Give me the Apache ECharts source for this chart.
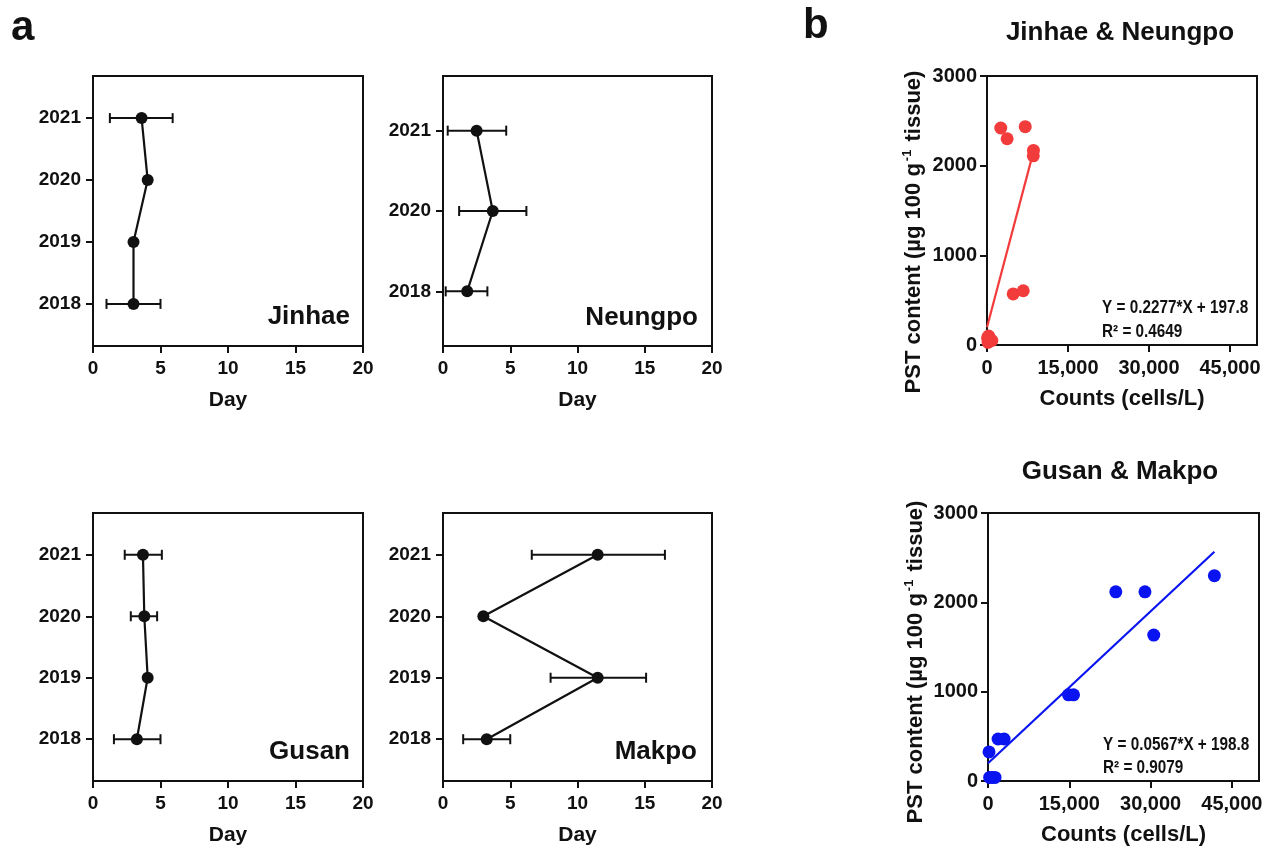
<!DOCTYPE html>
<html>
<head>
<meta charset="utf-8">
<script src="https://cdn.jsdelivr.net/npm/echarts@6/dist/echarts.min.js"></script>
<style>
html,body{margin:0;padding:0;background:#fff}
#main{width:1270px;height:848px}
</style>
</head>
<body>
<div id="main"></div>
<script>
var FONT = '"Liberation Sans", Arial, Helvetica, sans-serif';
var INK = '#111';

// ---- panel a : bloom day per year (mean, min, max) ----
var jinhaeYears = ['2018', '2019', '2020', '2021'];
var jinhaeDay   = [3.0, 3.0, 4.05, 3.6];
var jinhaeLow   = [1.0, null, null, 1.25];
var jinhaeHigh  = [5.0, null, null, 5.9];

var neungpoYears = ['2018', '2020', '2021'];
var neungpoDay   = [1.8, 3.7, 2.5];
var neungpoLow   = [0.2, 1.2, 0.35];
var neungpoHigh  = [3.3, 6.2, 4.7];

var gusanYears = ['2018', '2019', '2020', '2021'];
var gusanDay   = [3.25, 4.05, 3.8, 3.7];
var gusanLow   = [1.55, null, 2.8, 2.35];
var gusanHigh  = [5.0, null, 4.75, 5.1];

var makpoYears = ['2018', '2019', '2020', '2021'];
var makpoDay   = [3.25, 11.5, 3.0, 11.5];
var makpoLow   = [1.5, 8.0, null, 6.6];
var makpoHigh  = [5.0, 15.1, null, 16.5];

var dayTicks = [0, 5, 10, 15, 20];

// ---- panel b : PST content vs cell counts ----
var jnCounts = [2550, 3730, 7080, 8570, 8600, 4850, 6710, 100, 300, 600, 900, 200];
var jnPST    = [2420, 2300, 2435, 2110, 2170, 570, 605, 80, 100, 60, 50, 30];
var jnFitX   = [0, 8700];
var jnFitY   = [198, 2179];

var gmCounts = [190, 300, 800, 1300, 1860, 2970, 14850, 15780, 23580, 28960, 30580, 41770];
var gmPST    = [325, 40, 40, 40, 470, 470, 965, 965, 2118, 2118, 1634, 2298];
var gmFitX   = [0, 41770];
var gmFitY   = [198, 2567];

var countTicks = [0, 15000, 30000, 45000];

var grids = [
    {left: 93,  top: 76,  width: 270, height: 270},
    {left: 443, top: 76,  width: 269, height: 270},
    {left: 93,  top: 513, width: 270, height: 268},
    {left: 443, top: 513, width: 269, height: 268},
    {left: 987, top: 76,  width: 270, height: 269},
    {left: 988, top: 513, width: 271, height: 268}
];

var xAxes = [], yAxes = [], series = [];

function axisBase(size){
    return {
        axisLine: {show: true, onZero: false, lineStyle: {color: INK, width: 2}},
        axisTick: {show: true, length: 7, lineStyle: {color: INK, width: 2}},
        splitLine: {show: false},
        axisLabel: {color: INK, fontSize: size, fontWeight: 'bold', fontFamily: FONT, margin: 13}
    };
}

function renderErr(params, api){
    var a = api.coord([api.value(0), api.value(2)]);
    var b = api.coord([api.value(1), api.value(2)]);
    var h = 5;
    var st = {stroke: INK, lineWidth: 2};
    return {type: 'group', children: [
        {type: 'line', shape: {x1: a[0], y1: a[1], x2: b[0], y2: b[1]}, style: st},
        {type: 'line', shape: {x1: a[0], y1: a[1] - h, x2: a[0], y2: a[1] + h}, style: st},
        {type: 'line', shape: {x1: b[0], y1: b[1] - h, x2: b[0], y2: b[1] + h}, style: st}
    ]};
}

function panelA(gi, years, day, low, high){
    var n = years.length;
    var idx = years.map(function(y, i){ return i; });
    var x = axisBase(19);
    x.gridIndex = gi; x.type = 'value'; x.min = 0; x.max = 20;
    x.axisLabel.customValues = dayTicks;
    x.axisTick.customValues = dayTicks;
    x.name = 'Day'; x.nameLocation = 'middle'; x.nameGap = 44;
    x.nameTextStyle = {color: INK, fontSize: 21, fontWeight: 'bold', fontFamily: FONT};
    xAxes.push(x);

    var y = axisBase(19);
    y.gridIndex = gi; y.type = 'value'; y.min = -0.68; y.max = n - 1 + 0.68;
    y.axisLabel.customValues = idx;
    y.axisLabel.margin = 12;
    y.axisLabel.formatter = function(v){ return years[Math.round(v)]; };
    y.axisTick.customValues = idx;
    yAxes.push(y);

    var errData = [];
    for (var i = 0; i < n; i++) {
        if (low[i] != null) errData.push([low[i], high[i], i]);
    }
    series.push({
        type: 'custom', xAxisIndex: gi, yAxisIndex: gi,
        renderItem: renderErr, data: errData,
        encode: {x: [0, 1], y: 2}, z: 2, silent: true
    });
    series.push({
        type: 'line', xAxisIndex: gi, yAxisIndex: gi,
        data: day.map(function(d, i){ return [d, i]; }),
        symbol: 'circle', symbolSize: 12,
        itemStyle: {color: INK},
        lineStyle: {color: INK, width: 2.2},
        z: 3, silent: true, animation: false
    });
}

function panelB(gi, counts, pst, fitX, fitY, color){
    var x = axisBase(20);
    x.gridIndex = gi; x.type = 'value'; x.min = 0; x.max = 50000;
    x.axisLabel.customValues = countTicks;
    x.axisTick.customValues = countTicks;
    x.axisLabel.formatter = function(v){ return v.toLocaleString('en-US'); };
    x.name = 'Counts (cells/L)'; x.nameLocation = 'middle'; x.nameGap = 43;
    x.nameTextStyle = {color: INK, fontSize: 22, fontWeight: 'bold', fontFamily: FONT};
    xAxes.push(x);

    var y = axisBase(20);
    y.gridIndex = gi; y.type = 'value'; y.min = 0; y.max = 3000; y.interval = 1000;
    y.axisLabel.margin = 10;
    y.axisLabel.formatter = function(v){ return String(v); };
    yAxes.push(y);

    series.push({
        type: 'scatter', xAxisIndex: gi, yAxisIndex: gi,
        data: counts.map(function(c, i){ return [c, pst[i]]; }),
        symbol: 'circle', symbolSize: 13,
        itemStyle: {color: color, opacity: 1},
        z: 3, silent: true
    });
    series.push({
        type: 'line', xAxisIndex: gi, yAxisIndex: gi,
        data: fitX.map(function(v, i){ return [v, fitY[i]]; }),
        symbol: 'none', lineStyle: {color: color, width: 2.2},
        z: 2, silent: true, animation: false
    });
}

panelA(0, jinhaeYears, jinhaeDay, jinhaeLow, jinhaeHigh);
panelA(1, neungpoYears, neungpoDay, neungpoLow, neungpoHigh);
panelA(2, gusanYears, gusanDay, gusanLow, gusanHigh);
panelA(3, makpoYears, makpoDay, makpoLow, makpoHigh);
panelB(4, jnCounts, jnPST, jnFitX, jnFitY, '#f23b3b');
panelB(5, gmCounts, gmPST, gmFitX, gmFitY, '#0a14f0');

function txt(x, y, text, size, align, extra){
    var o = {
        type: 'text', x: x, y: y, silent: true,
        style: {
            text: text, fill: INK, fontSize: size, fontWeight: 'bold', fontFamily: FONT,
            textAlign: align || 'left', textVerticalAlign: 'middle', verticalAlign: 'middle'
        }
    };
    if (extra) for (var k in extra) o[k] = extra[k];
    return o;
}

function eq(x, y, text){
    return txt(x, y, text, 18, 'left', {scaleX: 0.85});
}

function yName(x, y){
    return {
        type: 'text', x: x, y: y, rotation: Math.PI / 2, silent: true,
        style: {
            text: '{n|PST content (\u00b5g 100 g}{s|-1}{n| tissue)}',
            fill: INK, fontFamily: FONT, fontWeight: 'bold',
            textAlign: 'center', textVerticalAlign: 'middle', verticalAlign: 'middle',
            rich: {
                n: {fontSize: 22, fontWeight: 'bold', fontFamily: FONT, fill: INK, lineHeight: 26, verticalAlign: 'bottom'},
                s: {fontSize: 13, fontWeight: 'bold', fontFamily: FONT, fill: INK, lineHeight: 26, verticalAlign: 'top', padding: [2, 2, 0, 2]}
            }
        }
    };
}

var graphics = [
    txt(11, 28, 'a', 42),
    txt(803, 26, 'b', 42),
    txt(350, 317, 'Jinhae', 26, 'right'),
    txt(698, 318, 'Neungpo', 26, 'right'),
    txt(350, 752, 'Gusan', 26, 'right'),
    txt(697, 752, 'Makpo', 26, 'right'),
    txt(1120, 33, 'Jinhae & Neungpo', 26, 'center'),
    txt(1120, 472, 'Gusan & Makpo', 26, 'center'),
    eq(1102, 308, 'Y = 0.2277*X + 197.8'),
    eq(1102, 332, 'R\u00b2 = 0.4649'),
    eq(1103, 745, 'Y = 0.0567*X + 198.8'),
    eq(1103, 768, 'R\u00b2 = 0.9079'),
    yName(912, 232),
    yName(914, 662)
];

var chart = echarts.init(document.getElementById('main'), null, {renderer: 'canvas'});
chart.setOption({
    backgroundColor: '#fff',
    animation: false,
    textStyle: {fontFamily: FONT},
    grid: grids.map(function(g){
        return {left: g.left, top: g.top, width: g.width, height: g.height,
                show: true, borderColor: INK, borderWidth: 2, backgroundColor: 'transparent',
                containLabel: false};
    }),
    xAxis: xAxes,
    yAxis: yAxes,
    series: series,
    graphic: graphics
});
</script>
</body>
</html>
